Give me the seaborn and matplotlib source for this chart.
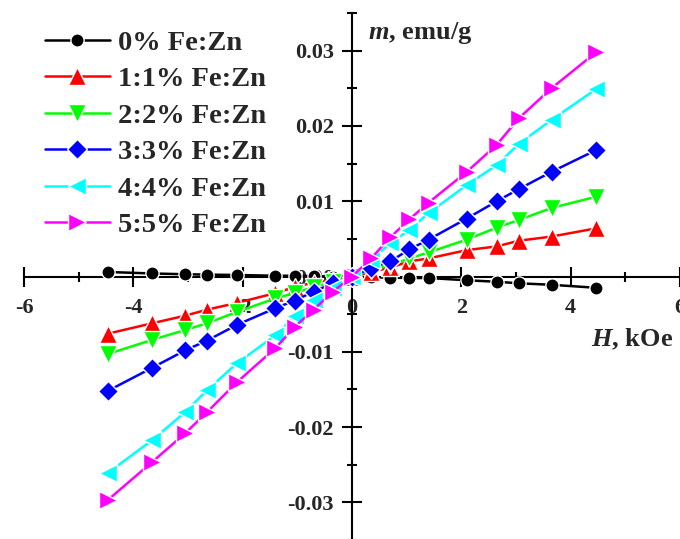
import matplotlib
matplotlib.use("Agg")
import matplotlib.pyplot as plt
import matplotlib.ticker as mticker
import seaborn as sns
import pandas as pd

# ---- data ----
H = [-4.47, -3.65, -3.05, -2.65, -2.1, -1.4, -1.05, -0.7, -0.35, 0.0,
     0.35, 0.7, 1.05, 1.4, 2.1, 2.65, 3.05, 3.65, 4.47]

m_0 = [0.0006, 0.0004, 0.0003, 0.00025, 0.0002, 0.0001, 0.0001, 0.00005, 0.0, 0.0,
       -0.0001, -0.00015, -0.0002, -0.0002, -0.0005, -0.0007, -0.0009, -0.0011, -0.0015]
m_1 = [-0.0076, -0.0062, -0.0052, -0.0044, -0.0035, -0.0022, -0.0014, -0.0008, -0.0004, 0.0,
       0.0006, 0.0012, 0.0020, 0.0024, 0.0035, 0.0040, 0.00475, 0.0053, 0.0064]
m_2 = [-0.0103, -0.0084, -0.0071, -0.0062, -0.0047, -0.0029, -0.0022, -0.0014, -0.0007, 0.0,
       0.0008, 0.0015, 0.0024, 0.0032, 0.0049, 0.0065, 0.0075, 0.0091, 0.0106]
m_3 = [-0.0152, -0.0121, -0.0098, -0.0085, -0.0064, -0.0042, -0.0032, -0.0020, -0.0009, 0.0,
       0.0011, 0.0020, 0.0036, 0.0049, 0.0077, 0.0100, 0.0116, 0.0139, 0.0168]
m_4 = [-0.0261, -0.0217, -0.0180, -0.0151, -0.0115, -0.0078, -0.0053, -0.0031, -0.0015, 0.0,
       0.0022, 0.0044, 0.0062, 0.0084, 0.01215, 0.0148, 0.0176, 0.0208, 0.0249]
m_5 = [-0.0297, -0.0246, -0.0208, -0.0180, -0.0140, -0.0095, -0.0067, -0.0044, -0.0020, 0.0,
       0.0024, 0.0052, 0.0076, 0.0098, 0.0139, 0.0175, 0.0210, 0.0250, 0.0298]

series_names = ["0% Fe:Zn", "1:1% Fe:Zn", "2:2% Fe:Zn", "3:3% Fe:Zn", "4:4% Fe:Zn", "5:5% Fe:Zn"]
series_values = [m_0, m_1, m_2, m_3, m_4, m_5]
colors = ["#000000", "#ff0000", "#00ff00", "#0000ff", "#00ffff", "#ff00ff"]
markers = ["o", "^", "v", "D", "<", ">"]
msizes = [9.5, 12.5, 12.5, 10, 12.5, 12.5]

x_ticks = [-6, -4, -2, 0, 2, 4, 6]
y_ticks = [-0.03, -0.02, -0.01, 0.0, 0.01, 0.02, 0.03]

# ---- style ----
sns.set_style("white")
plt.rcParams["font.family"] = ["Liberation Serif", "DejaVu Serif"]
plt.rcParams["font.weight"] = "bold"
plt.rcParams["axes.unicode_minus"] = False
plt.rcParams["mathtext.fontset"] = "custom"
plt.rcParams["mathtext.it"] = "Liberation Serif:bold:italic"
plt.rcParams["mathtext.rm"] = "Liberation Serif:bold"
plt.rcParams["mathtext.bf"] = "Liberation Serif:bold"

fig = plt.figure(figsize=(6.8, 5.39), dpi=100)
ax = fig.add_axes([24 / 680, -1.1 / 539, 656 / 680, 527.2 / 539])

for name, vals, c, mk, ms in zip(series_names, series_values, colors, markers, msizes):
    df = pd.DataFrame({"H": H, "m": vals})
    sns.lineplot(data=df, x="H", y="m", ax=ax, color=c, marker=mk, markersize=ms,
                 markeredgecolor="white", markeredgewidth=1.0, linewidth=1.8,
                 estimator=None, label=name, legend=False)

ax.set_xlim(-6, 6)
ax.set_ylim(-0.035, 0.035)
ax.set_xlabel("")
ax.set_ylabel("")

for s in ["top", "right"]:
    ax.spines[s].set_visible(False)
ax.spines["left"].set_position(("data", 0))
ax.spines["bottom"].set_position(("data", 0))
for s in ["left", "bottom"]:
    ax.spines[s].set_linewidth(1.5)
    ax.spines[s].set_color("black")
    ax.spines[s].set_zorder(1)

ax.set_xticks(x_ticks)
ax.set_yticks(y_ticks)
ax.xaxis.set_minor_locator(mticker.MultipleLocator(1))
ax.yaxis.set_minor_locator(mticker.MultipleLocator(0.005))
ax.xaxis.set_major_formatter(mticker.FormatStrFormatter("%d"))
ax.yaxis.set_major_formatter(mticker.FormatStrFormatter("%.2f"))
ax.tick_params(which="both", bottom=True, left=True, top=False, right=False)
ax.tick_params(which="major", direction="inout", length=15, width=1.5, labelsize=16, color="black")
ax.tick_params(which="minor", direction="inout", length=7, width=1.5, color="black")
ax.tick_params(axis="x", which="major", pad=8)
ax.tick_params(axis="y", which="major", pad=5.5)
for lab in ax.get_xticklabels() + ax.get_yticklabels():
    lab.set_fontweight("bold")
ax.grid(False)
ax.set_facecolor("white")

ax.text(0.29, 0.0323, "$m$, emu/g", fontsize=19, fontweight="bold",
        ha="left", va="center")
ax.text(5.87, -0.0083, "$H$, kOe", fontsize=19, fontweight="bold",
        ha="right", va="center")

handles, labels = ax.get_legend_handles_labels()
leg = ax.legend(handles, labels, loc="upper left", bbox_to_anchor=(45 / 680, 1 - 30 / 539),
                bbox_transform=fig.transFigure, frameon=False, borderpad=0, borderaxespad=0,
                handlelength=2.28, handletextpad=0.28, labelspacing=0.37,
                prop={"family": "Liberation Serif", "weight": "bold", "size": 20.5})

fig.savefig("out.png", dpi=100, facecolor="white")
